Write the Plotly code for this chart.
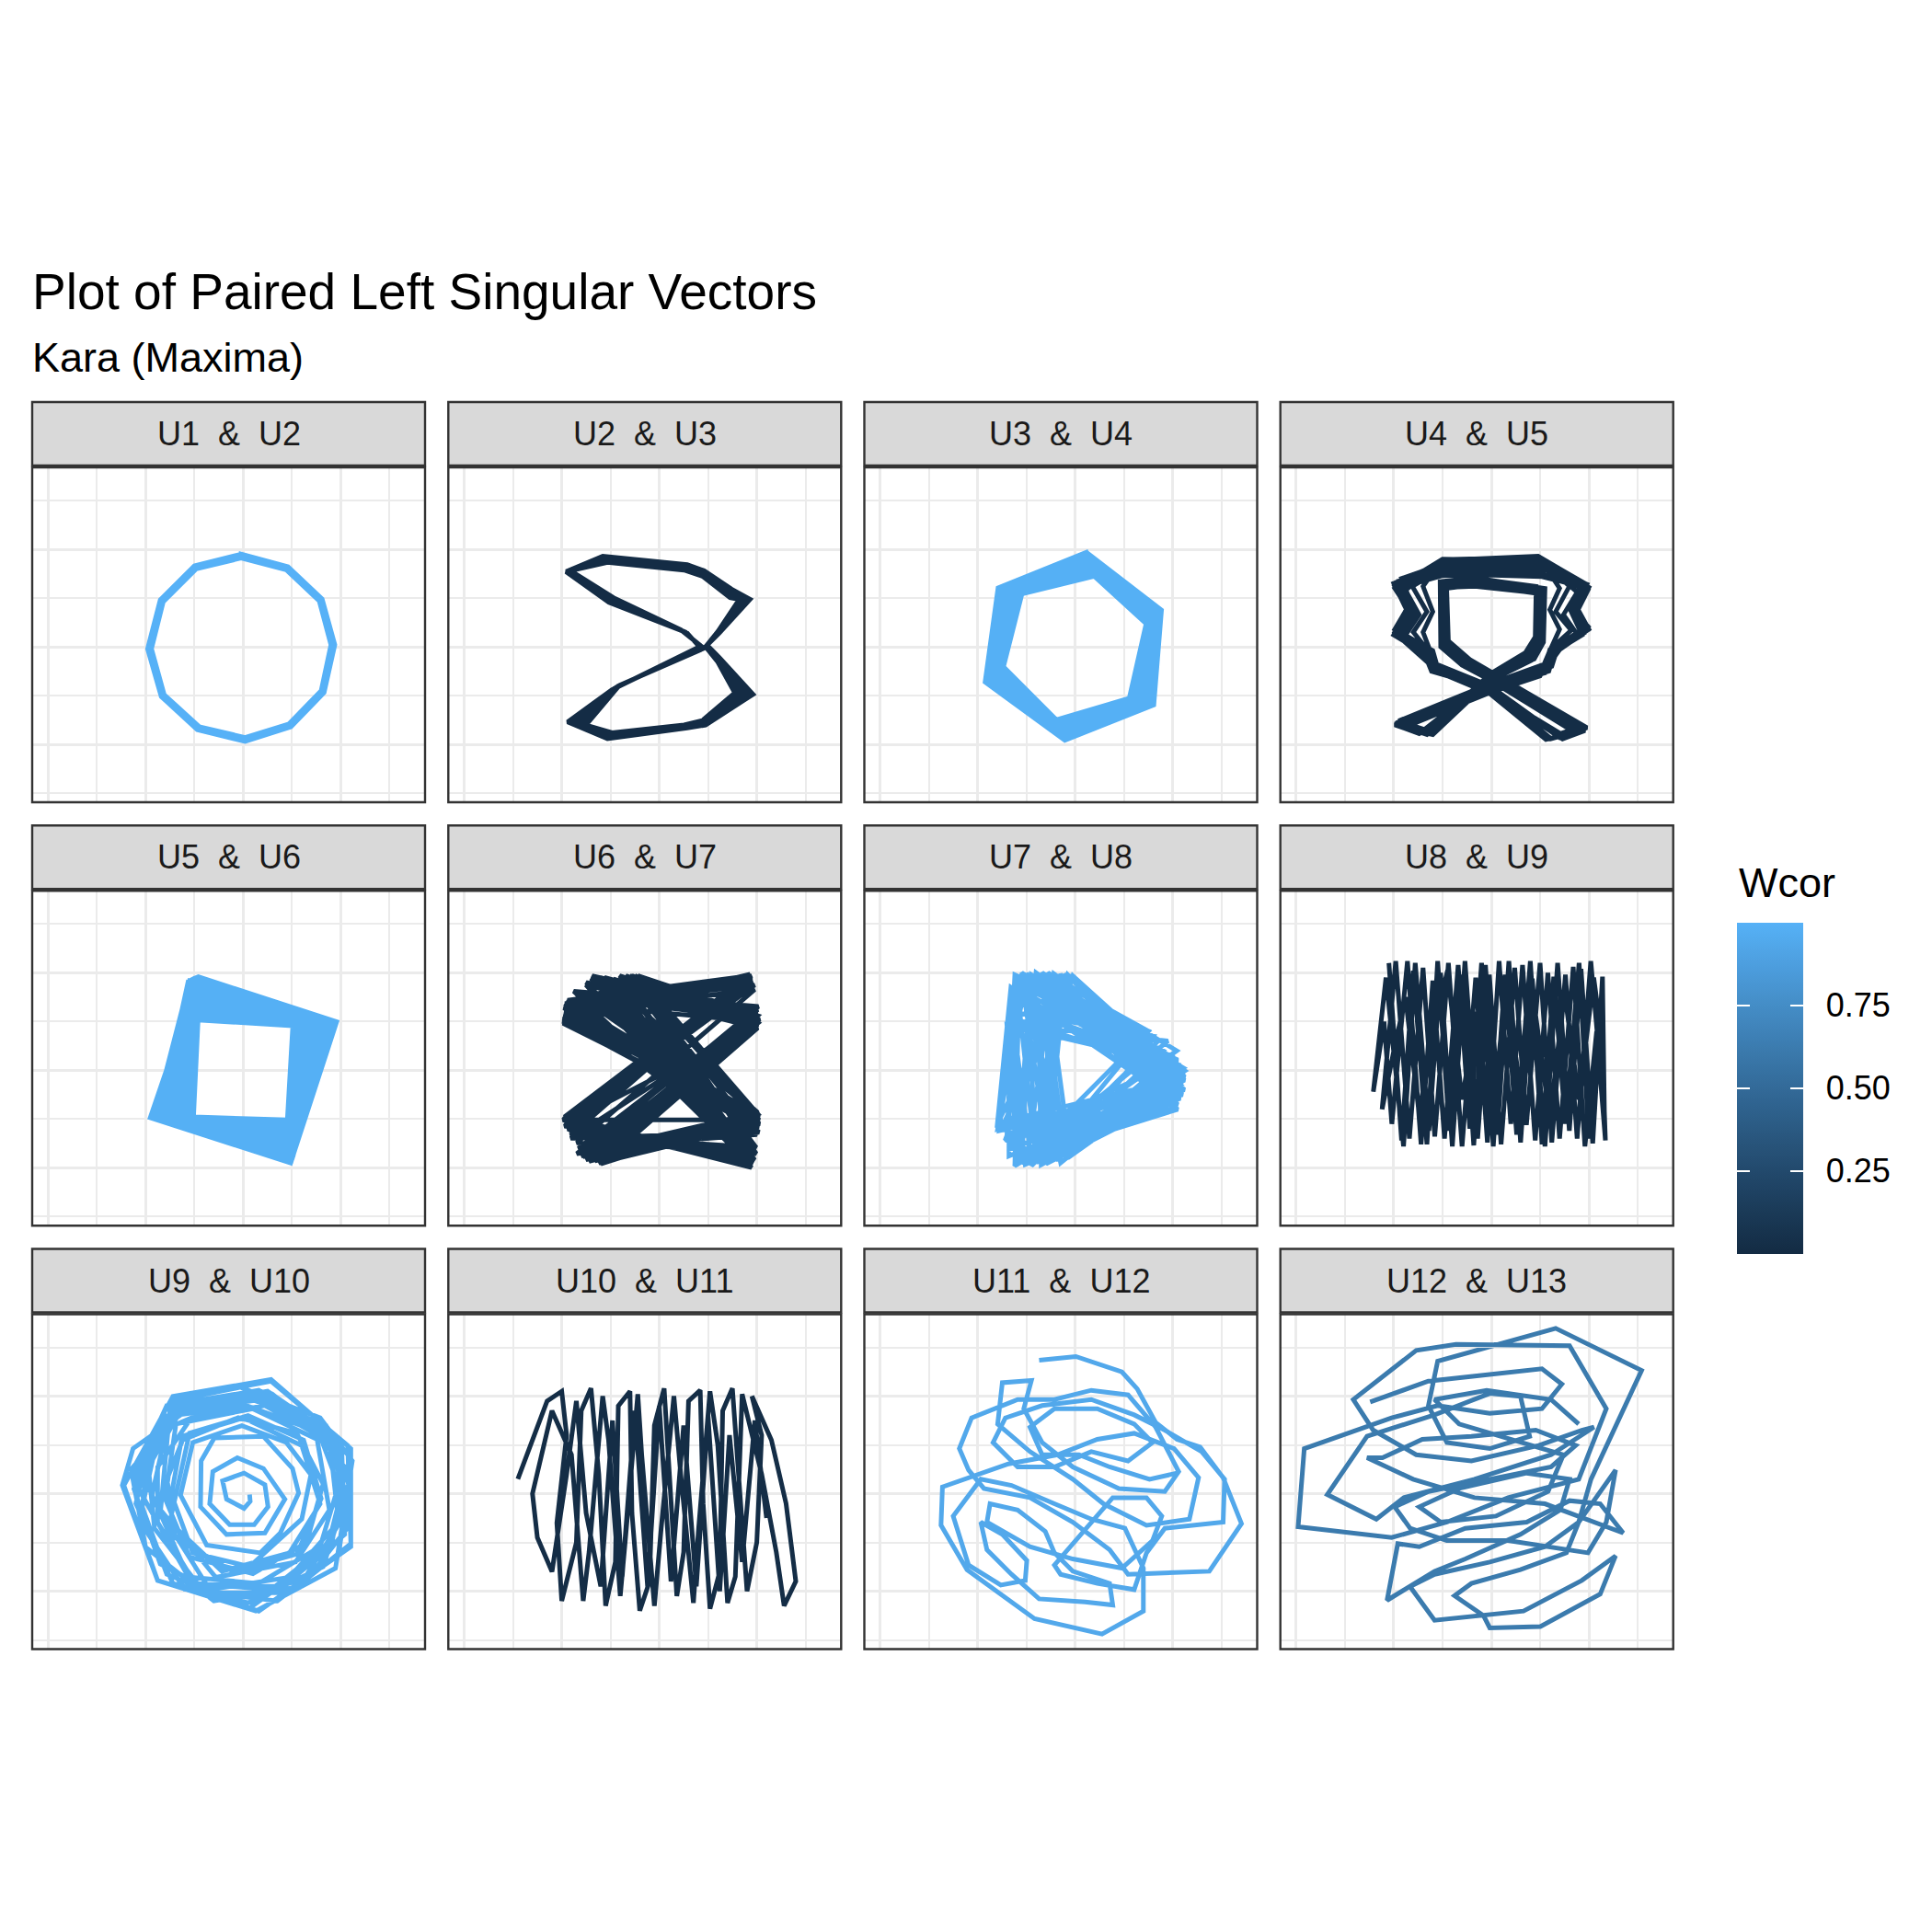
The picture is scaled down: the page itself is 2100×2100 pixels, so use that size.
import plotly.graph_objects as go

# ---------------- text / categories ----------------
TITLE = "Plot of Paired Left Singular Vectors"
SUBTITLE = "Kara (Maxima)"
LEGEND_TITLE = "Wcor"
PANEL_LABELS = ["U1  &  U2", "U2  &  U3", "U3  &  U4", "U4  &  U5",
                "U5  &  U6", "U6  &  U7", "U7  &  U8", "U8  &  U9",
                "U9  &  U10", "U10  &  U11", "U11  &  U12", "U12  &  U13"]
WCOR = [1.00, 0.01, 0.99, 0.02, 0.99, 0.03, 0.98, 0.00, 0.97, 0.02, 0.94, 0.62]
CB_TICKS = [0.25, 0.50, 0.75]
CB_TICKTEXT = ["0.25", "0.50", "0.75"]

# ---------------- paired singular vectors ----------------
U1_U2 = [(-0.02, 0.91), (0.44, 0.79), (0.78, 0.47), (0.90, 0.02), (0.80, -0.45), (0.47, -0.79),
         (0.02, -0.93), (-0.45, -0.82), (-0.81, -0.49), (-0.94, -0.02), (-0.82, 0.46), (-0.48, 0.80),
         (-0.02, 0.91),
         (-0.02, 0.95), (0.46, 0.82), (0.81, 0.49), (0.94, 0.02), (0.83, -0.47), (0.49, -0.82),
         (0.02, -0.97), (-0.47, -0.85), (-0.84, -0.51), (-0.98, -0.02), (-0.85, 0.48), (-0.50, 0.83),
         (-0.02, 0.95)]

U2_U3 = [(-0.956, 0.770), (-0.579, 0.928), (0.286, 0.843), (0.459, 0.780), (0.742, 0.591), (0.931, 0.487),
         (0.616, 0.142), (0.491, 0.016), (0.616, -0.110), (0.962, -0.487), (0.475, -0.802), (0.286, -0.833),
         (-0.531, -0.943), (-0.940, -0.770), (-0.484, -0.440), (0.412, 0.000), (0.286, 0.142), (-0.516, 0.456),
         (-0.956, 0.770),
         (-0.945, 0.772), (-0.568, 0.912), (0.278, 0.828), (0.455, 0.766), (0.738, 0.569), (0.904, 0.487),
         (0.611, 0.147), (0.486, 0.012), (0.611, -0.121), (0.915, -0.482), (0.467, -0.790), (0.278, -0.826),
         (-0.520, -0.928), (-0.893, -0.778), (-0.463, -0.428), (0.425, -0.003), (0.270, 0.150), (-0.505, 0.467),
         (-0.945, 0.772),
         (-0.934, 0.774), (-0.557, 0.896), (0.270, 0.814), (0.450, 0.752), (0.733, 0.547), (0.877, 0.487),
         (0.607, 0.151), (0.481, 0.009), (0.607, -0.132), (0.868, -0.478), (0.459, -0.777), (0.270, -0.818),
         (-0.509, -0.912), (-0.846, -0.786), (-0.443, -0.415), (0.437, -0.006), (0.255, 0.157), (-0.494, 0.478),
         (-0.934, 0.774),
         (-0.921, 0.777), (-0.544, 0.880), (0.262, 0.800), (0.446, 0.738), (0.729, 0.525), (0.849, 0.487),
         (0.604, 0.154), (0.478, 0.005), (0.604, -0.145), (0.821, -0.475), (0.451, -0.766), (0.262, -0.810),
         (-0.497, -0.897), (-0.799, -0.794), (-0.425, -0.404), (0.448, -0.011), (0.239, 0.165), (-0.481, 0.490),
         (-0.921, 0.777),
         (-0.909, 0.780), (-0.531, 0.865), (0.255, 0.786), (0.443, 0.723), (0.726, 0.503), (0.821, 0.487),
         (0.601, 0.157), (0.475, 0.000), (0.601, -0.157), (0.774, -0.472), (0.443, -0.755), (0.255, -0.802),
         (-0.484, -0.881), (-0.752, -0.802), (-0.406, -0.393), (0.459, -0.016), (0.223, 0.173), (-0.469, 0.503),
         (-0.909, 0.780)]

U3_U4 = [(0.113, 0.969), (0.884, 0.377), (0.805, -0.597), (-0.107, -0.959), (-0.925, -0.362), (-0.792, 0.604), (0.113, 0.969),
         (0.122, 0.940), (0.866, 0.356), (0.776, -0.588), (-0.118, -0.930), (-0.899, -0.344), (-0.762, 0.595), (0.122, 0.940),
         (0.135, 0.906), (0.843, 0.340), (0.742, -0.582), (-0.132, -0.896), (-0.871, -0.321), (-0.730, 0.582), (0.135, 0.906),
         (0.147, 0.873), (0.820, 0.323), (0.705, -0.572), (-0.144, -0.866), (-0.841, -0.300), (-0.695, 0.572), (0.147, 0.873),
         (0.157, 0.843), (0.799, 0.302), (0.664, -0.566), (-0.154, -0.833), (-0.814, -0.277), (-0.657, 0.566), (0.157, 0.843),
         (0.166, 0.813), (0.780, 0.284), (0.631, -0.556), (-0.166, -0.806), (-0.791, -0.258), (-0.627, 0.557), (0.166, 0.813),
         (0.179, 0.780), (0.758, 0.264), (0.601, -0.544), (-0.176, -0.780), (-0.767, -0.236), (-0.594, 0.550), (0.179, 0.780),
         (0.188, 0.751), (0.741, 0.251), (0.578, -0.537), (-0.185, -0.765), (-0.751, -0.221), (-0.570, 0.546), (0.188, 0.751),
         (0.195, 0.723), (0.726, 0.236), (0.553, -0.528), (-0.195, -0.748), (-0.736, -0.204), (-0.547, 0.541), (0.195, 0.723)]

U4_U5 = [(-0.519, 0.865), (0.519, 0.906), (0.975, 0.629), (0.849, 0.362), (0.975, 0.189), (0.629, -0.016),
         (0.566, -0.220), (-0.016, -0.409), (-0.975, -0.780), (-0.708, -0.874), (-0.016, -0.299), (0.393, -0.094),
         (0.487, 0.063), (0.494, 0.560), (-0.173, 0.660), (-0.481, 0.623), (-0.472, 0.016), (-0.252, -0.164),
         (-0.016, -0.283), (0.943, -0.843), (0.708, -0.928), (-0.016, -0.434), (-0.575, -0.204), (-0.629, -0.063),
         (-0.984, 0.142), (-0.833, 0.362), (-0.984, 0.635),
         (-0.566, 0.818), (0.566, 0.865), (0.928, 0.645), (0.818, 0.377), (0.959, 0.157), (0.645, -0.057),
         (0.550, -0.267), (-0.016, -0.425), (-0.928, -0.818), (-0.645, -0.881), (-0.016, -0.310), (0.440, -0.126),
         (0.535, 0.047), (0.550, 0.597), (-0.173, 0.708), (-0.525, 0.667), (-0.519, 0.000), (-0.299, -0.189),
         (-0.016, -0.321), (0.896, -0.865), (0.613, -0.943), (-0.016, -0.425), (-0.613, -0.252), (-0.676, -0.094),
         (-0.943, 0.126), (-0.802, 0.377), (-0.943, 0.676),
         (-0.540, 0.780), (0.540, 0.800), (0.950, 0.600), (0.830, 0.380), (0.940, 0.170), (0.600, -0.040),
         (0.540, -0.180), (-0.016, -0.380), (-0.950, -0.760), (-0.680, -0.850), (-0.016, -0.330), (0.420, -0.110),
         (0.510, 0.080), (0.520, 0.600), (-0.173, 0.690), (-0.500, 0.650), (-0.500, 0.030), (-0.270, -0.170),
         (-0.016, -0.300), (0.920, -0.820), (0.680, -0.900), (-0.016, -0.400), (-0.560, -0.180), (-0.600, -0.040),
         (-0.960, 0.160), (-0.820, 0.380), (-0.960, 0.600),
         (-0.500, 0.730), (0.500, 0.760), (0.990, 0.580), (0.870, 0.340), (0.990, 0.210), (0.660, 0.000),
         (0.590, -0.250), (-0.016, -0.440), (-0.990, -0.800), (-0.740, -0.890), (-0.016, -0.320), (0.370, -0.080),
         (0.460, 0.090), (0.470, 0.580), (-0.150, 0.640), (-0.460, 0.600), (-0.450, 0.050), (-0.230, -0.140),
         (-0.016, -0.260), (0.960, -0.860), (0.730, -0.945), (-0.016, -0.460), (-0.590, -0.230), (-0.650, -0.090),
         (-1.000, 0.120), (-0.850, 0.340), (-1.000, 0.650),
         (-0.440, 0.890), (0.480, 0.930), (0.940, 0.660), (0.800, 0.400), (0.930, 0.120), (0.600, -0.080),
         (0.500, -0.300), (-0.016, -0.470), (-0.900, -0.830), (-0.600, -0.900), (-0.016, -0.350), (0.410, -0.140),
         (0.500, 0.030), (0.520, 0.540), (-0.180, 0.640), (-0.490, 0.600), (-0.480, -0.010), (-0.280, -0.200),
         (-0.016, -0.340), (0.860, -0.880), (0.560, -0.950), (-0.016, -0.480), (-0.540, -0.260), (-0.700, -0.120),
         (-0.920, 0.080), (-0.780, 0.340), (-0.920, 0.700),
         (-0.580, 0.820), (0.600, 0.850), (1.000, 0.610), (0.880, 0.400), (1.000, 0.180), (0.700, -0.030),
         (0.600, -0.170), (-0.016, -0.420), (-0.960, -0.800), (-0.660, -0.900), (-0.016, -0.280), (0.350, -0.060),
         (0.450, 0.100), (0.460, 0.620), (-0.160, 0.700), (-0.460, 0.670), (-0.440, 0.060), (-0.220, -0.130),
         (-0.016, -0.250), (0.980, -0.830), (0.760, -0.920), (-0.016, -0.450), (-0.600, -0.170), (-0.620, -0.030),
         (-0.990, 0.180), (-0.860, 0.400), (-0.990, 0.600),
         (-0.500, 0.900), (0.560, 0.880), (0.960, 0.650), (0.860, 0.370), (0.960, 0.200), (0.640, -0.020),
         (0.580, -0.230), (-0.016, -0.400), (-0.960, -0.790), (-0.720, -0.880), (-0.016, -0.310), (0.400, -0.100),
         (0.490, 0.070), (0.500, 0.570), (-0.170, 0.670), (-0.480, 0.630), (-0.470, 0.020), (-0.260, -0.170),
         (-0.016, -0.290), (0.950, -0.850), (0.720, -0.935), (-0.016, -0.440), (-0.580, -0.210), (-0.640, -0.070),
         (-0.990, 0.150), (-0.840, 0.370), (-0.990, 0.620),
         (-0.560, 0.750), (0.520, 0.720), (0.920, 0.620), (0.810, 0.390), (0.950, 0.140), (0.620, -0.060),
         (0.560, -0.200), (-0.016, -0.390), (-0.940, -0.770), (-0.690, -0.860), (-0.016, -0.330), (0.380, -0.090),
         (0.480, 0.060), (0.490, 0.550), (-0.170, 0.620), (-0.470, 0.610), (-0.490, 0.000), (-0.240, -0.160),
         (-0.016, -0.270), (0.930, -0.840), (0.700, -0.920), (-0.016, -0.420), (-0.570, -0.220), (-0.610, -0.050),
         (-0.970, 0.130), (-0.810, 0.350), (-0.970, 0.660),
         (-0.470, 0.820), (0.580, 0.800), (0.980, 0.640), (0.840, 0.350), (0.985, 0.170), (0.680, -0.010),
         (0.620, -0.200), (-0.016, -0.415), (-0.985, -0.790), (-0.700, -0.870), (-0.016, -0.300), (0.400, -0.100),
         (0.470, 0.080), (0.480, 0.590), (-0.170, 0.680), (-0.490, 0.640), (-0.460, 0.040), (-0.240, -0.150),
         (-0.016, -0.290), (0.935, -0.835), (0.690, -0.920), (-0.016, -0.440), (-0.560, -0.190), (-0.610, -0.050),
         (-0.975, 0.135), (-0.820, 0.350), (-0.975, 0.640),
         (-0.530, 0.850), (0.530, 0.880), (0.800, 0.620), (0.660, 0.360), (0.820, 0.170), (0.600, -0.030),
         (0.550, -0.210), (-0.016, -0.405), (-0.960, -0.785), (-0.700, -0.880), (-0.016, -0.305), (0.400, -0.100),
         (0.490, 0.060), (0.500, 0.565), (-0.170, 0.665), (-0.485, 0.625), (-0.475, 0.020), (-0.255, -0.165),
         (-0.016, -0.285), (0.945, -0.845), (0.710, -0.930), (-0.016, -0.435), (-0.575, -0.200), (-0.630, -0.060),
         (-0.800, 0.150), (-0.660, 0.360), (-0.810, 0.620),
         (-0.510, 0.800), (0.550, 0.830), (0.700, 0.600), (0.600, 0.380), (0.700, 0.180), (0.610, -0.020),
         (0.560, -0.220), (-0.016, -0.410), (-0.970, -0.790), (-0.710, -0.875), (-0.016, -0.300), (0.395, -0.095),
         (0.485, 0.065), (0.495, 0.560), (-0.175, 0.660), (-0.480, 0.620), (-0.470, 0.015), (-0.250, -0.165),
         (-0.016, -0.285), (0.940, -0.840), (0.705, -0.925), (-0.016, -0.435), (-0.575, -0.205), (-0.620, -0.060),
         (-0.700, 0.150), (-0.600, 0.360), (-0.700, 0.620),
         (-0.600, 0.760), (0.620, 0.790), (0.880, 0.560), (0.740, 0.330), (0.880, 0.130), (0.620, -0.050),
         (0.570, -0.240), (-0.016, -0.420), (-0.950, -0.770), (-0.690, -0.860), (-0.016, -0.310), (0.390, -0.090),
         (0.480, 0.060), (0.490, 0.560), (-0.170, 0.660), (-0.480, 0.620), (-0.470, 0.020), (-0.250, -0.160),
         (-0.016, -0.285), (0.930, -0.850), (0.700, -0.930), (-0.016, -0.430), (-0.570, -0.200), (-0.620, -0.060),
         (-0.880, 0.120), (-0.740, 0.330), (-0.880, 0.580), (-0.519, 0.865)]

U5_U6 = [(-0.462, 0.516), (0.509, 0.456), (0.453, -0.509), (-0.509, -0.478), (-0.462, 0.516),
         (-0.468, 0.540), (0.537, 0.462), (0.466, -0.535), (-0.540, -0.482), (-0.468, 0.540),
         (-0.472, 0.566), (0.563, 0.465), (0.478, -0.560), (-0.569, -0.487), (-0.472, 0.566),
         (-0.476, 0.592), (0.589, 0.468), (0.490, -0.588), (-0.597, -0.491), (-0.476, 0.592),
         (-0.481, 0.616), (0.613, 0.472), (0.500, -0.613), (-0.623, -0.494), (-0.481, 0.616),
         (-0.487, 0.641), (0.641, 0.476), (0.509, -0.641), (-0.651, -0.497), (-0.487, 0.641),
         (-0.491, 0.667), (0.667, 0.478), (0.516, -0.667), (-0.676, -0.500), (-0.491, 0.667),
         (-0.494, 0.693), (0.694, 0.481), (0.520, -0.692), (-0.702, -0.502), (-0.494, 0.693),
         (-0.497, 0.717), (0.720, 0.484), (0.525, -0.717), (-0.726, -0.503), (-0.497, 0.717),
         (-0.500, 0.742), (0.746, 0.486), (0.529, -0.741), (-0.752, -0.504), (-0.500, 0.742),
         (-0.503, 0.767), (0.770, 0.487), (0.531, -0.767), (-0.777, -0.503), (-0.503, 0.767),
         (-0.506, 0.793), (0.795, 0.489), (0.529, -0.792), (-0.801, -0.503), (-0.506, 0.793),
         (-0.509, 0.818), (0.818, 0.491), (0.525, -0.818), (-0.827, -0.503), (-0.509, 0.818),
         (-0.548, 0.850), (0.842, 0.493), (0.521, -0.842), (-0.850, -0.502), (-0.548, 0.850),
         (-0.582, 0.881), (0.865, 0.494), (0.516, -0.865), (-0.871, -0.500), (-0.582, 0.881),
         (-0.566, 0.900), (0.889, 0.496), (0.508, -0.889), (-0.893, -0.497), (-0.566, 0.900),
         (-0.550, 0.918), (0.912, 0.497), (0.500, -0.912), (-0.915, -0.494), (-0.550, 0.918),
         (-0.505, 0.940), (0.936, 0.497), (0.494, -0.931), (-0.934, -0.491), (-0.505, 0.940),
         (-0.459, 0.959), (0.959, 0.497), (0.487, -0.950), (-0.953, -0.487), (-0.459, 0.959)]

U6_U7 = [(-0.972, 0.686), (1.009, 0.497), (-0.720, -0.934), (1.025, -0.478),
         (-0.689, 0.969), (1.003, 0.591), (-0.846, -0.855), (1.009, -0.604),
         (-0.987, 0.528), (0.931, 0.984), (-0.972, -0.525), (0.947, -0.981),
         (-0.814, 0.748), (1.009, 0.528), (-0.594, -0.903), (1.025, -0.541),
         (-0.972, 0.591), (0.915, 0.937), (-0.940, -0.604), (0.915, -0.934),
         (-0.469, 0.937), (0.994, 0.465), (-0.752, -0.918), (1.009, -0.509),
         (-0.909, 0.654), (0.978, 0.874), (-0.972, -0.572), (0.978, -0.855),
         (-0.217, 0.969), (1.009, 0.481), (-0.689, -0.918), (1.025, -0.509),
         (-0.940, 0.560), (0.884, 0.969), (-0.877, -0.509), (0.962, -0.950),
         (-0.877, 0.811), (1.016, 0.654), (-0.799, -0.855), (1.009, -0.431),
         (-0.563, 0.953), (0.978, 0.528), (-0.909, -0.698), (1.025, -0.635),
         (-0.978, 0.638), (0.947, 0.953), (-0.956, -0.478), (0.915, -0.965),
         (-0.752, 0.874), (1.009, 0.434), (-0.563, -0.934), (0.994, -0.509),
         (-0.987, 0.481), (0.899, 0.906), (-0.909, -0.667), (0.994, -0.792),
         (-0.343, 0.969), (0.978, 0.528), (-0.783, -0.887), (1.025, -0.478),
         (-0.940, 0.717), (0.915, 0.969), (-0.987, -0.509), (0.947, -0.997),
         (-0.642, 0.921), (0.994, 0.591), (-0.657, -0.887), (1.025, -0.525),
         (-0.972, 0.591), (0.978, 0.827), (-0.846, -0.745), (0.978, -0.824),
         (-0.930, 0.620), (0.950, 0.930), (-0.960, -0.550), (0.930, -0.950),
         (-0.600, 0.950), (1.020, 0.500), (-0.700, -0.920), (1.020, -0.490),
         (-0.980, 0.550), (0.900, 0.960), (-0.920, -0.620), (0.960, -0.900),
         (-0.750, 0.900), (1.000, 0.560), (-0.620, -0.950), (1.030, -0.550),
         (-0.950, 0.700), (0.960, 0.900), (-0.980, -0.500), (0.920, -0.980),
         (-0.400, 0.960), (1.010, 0.470), (-0.800, -0.880), (1.000, -0.460),
         (-0.900, 0.660), (0.930, 0.950), (-0.880, -0.580), (0.970, -0.880),
         (-0.550, 0.930), (1.030, 0.520), (-0.660, -0.930), (1.020, -0.580),
         (-0.990, 0.500), (0.890, 0.920), (-0.950, -0.520), (0.940, -0.930),
         (-0.700, 0.940), (0.990, 0.440), (-0.740, -0.900), (1.010, -0.520),
         (-0.850, 0.780), (1.010, 0.620), (-0.830, -0.800), (1.000, -0.660),
         (-0.300, 0.970), (0.970, 0.500), (-0.600, -0.960), (1.020, -0.450),
         (-0.972, 0.591), (0.931, 0.969), (-0.972, -0.509), (1.025, -0.509),
         (-0.280, 0.969), (1.009, 0.497), (-0.720, -0.934), (1.009, -0.447),
         (-0.217, 0.969), (1.009, 0.465), (-0.940, -0.541), (0.978, -0.918),
         (-0.406, 0.969), (1.009, 0.528), (-0.657, -0.918), (1.025, -0.494),
         (-0.972, 0.560), (0.915, 0.953), (-0.972, -0.478), (0.947, -0.965),
         (-0.248, 0.969), (0.994, 0.481), (-0.752, -0.887), (1.009, -0.431),
         (-0.987, 0.528), (0.884, 0.969), (-0.956, -0.572), (0.994, -0.855),
         (-0.217, 0.969), (1.009, 0.560), (-0.594, -0.934), (1.025, -0.509),
         (-0.940, 0.654), (0.947, 0.969), (-0.972, -0.494), (0.915, -0.981),
         (-0.280, 0.969), (1.009, 0.513), (-0.799, -0.871), (1.025, -0.478),
         (-0.972, 0.686)]

U7_U8 = [(-0.607, 0.953), (1.107, -0.022), (-0.607, -0.934),
         (-0.403, 1.000), (1.123, -0.101), (-0.748, -0.604),
         (-0.151, 0.984), (0.918, -0.415), (-0.591, -0.950),
         (-0.701, 0.465), (0.918, 0.088), (-0.025, -0.855),
         (-0.591, 0.906), (0.745, 0.403), (-0.340, -0.918),
         (-0.245, 0.984), (1.044, -0.132), (-0.796, -0.604),
         (-0.497, 0.969), (1.107, 0.025), (-0.623, -0.981),
         (-0.025, 0.969), (1.123, -0.069), (-0.796, -0.541),
         (-0.025, 0.969), (0.887, -0.440), (-0.780, -0.572),
         (-0.607, 0.969), (1.075, -0.289), (-0.513, -0.965),
         (-0.686, 0.450), (1.013, 0.151), (-0.214, -0.887),
         (-0.340, 1.000), (1.123, -0.006), (-0.277, -0.887),
         (-0.550, 0.930), (1.100, -0.050), (-0.550, -0.950),
         (-0.450, 0.980), (1.050, 0.100), (-0.700, -0.700),
         (-0.200, 0.970), (0.950, -0.300), (-0.450, -0.930),
         (-0.650, 0.600), (0.800, 0.350), (-0.100, -0.850),
         (-0.350, 0.950), (1.120, -0.200), (-0.780, -0.620),
         (-0.620, 0.800), (1.000, -0.300), (-0.300, -0.960),
         (-0.100, 0.990), (1.080, -0.150), (-0.680, -0.880),
         (-0.680, 0.500), (1.050, 0.050), (-0.400, -0.900),
         (-0.500, 0.990), (1.000, -0.350), (-0.750, -0.580),
         (-0.030, 0.950), (0.950, -0.420), (-0.780, -0.560),
         (-0.580, 0.750), (1.120, 0.000), (-0.200, -0.920),
         (-0.280, 1.000), (1.040, 0.200), (-0.620, -0.980),
         (-0.580, 0.700), (1.100, -0.120), (-0.650, -0.800),
         (-0.400, 0.850), (0.900, 0.200), (-0.300, -0.900),
         (-0.150, 0.900), (1.050, -0.350), (-0.700, -0.650),
         (-0.620, 0.980), (0.850, 0.300), (-0.450, -0.980),
         (-0.050, 0.980), (1.000, -0.400), (-0.780, -0.580),
         (-0.680, 0.550), (1.120, -0.050), (-0.050, -0.880),
         (-0.300, 0.980), (0.750, 0.400), (-0.600, -0.960),
         (-0.480, 0.600), (1.080, 0.050), (-0.150, -0.950),
         (-0.550, 1.000), (1.100, -0.250), (-0.720, -0.720),
         (-0.080, 0.980), (1.050, -0.200), (-0.800, -0.560),
         (-0.660, 0.850), (0.950, -0.250), (-0.350, -0.970),
         (-0.380, 0.720), (1.120, -0.100), (-0.500, -0.940),
         (-0.220, 0.990), (0.800, 0.250), (-0.400, -0.950),
         (-0.600, 0.880), (1.020, 0.120), (-0.250, -0.930),
         (-0.450, 0.950), (1.050, -0.400), (-0.550, -0.900),
         (-0.700, 0.470), (0.950, 0.300), (-0.600, -0.970),
         (-0.607, 0.953)]

U8_U9 = [(-1.05, 1.10), (-0.92, -0.72), (-0.80, 1.02), (-0.66, -0.76), (-0.55, 1.12), (-0.43, -0.62),
         (-0.30, 0.98), (-0.18, -0.77), (-0.06, 1.08), (0.06, -0.66), (0.18, 1.12), (0.30, -0.74),
         (0.42, 0.94), (0.55, -0.78), (0.68, 1.10), (0.80, -0.62), (0.92, 1.04), (1.04, -0.75),
         (1.14, 0.96), (1.16, -0.45), (1.02, 1.12), (0.88, -0.70), (0.76, 0.98), (0.62, -0.74),
         (0.50, 1.10), (0.36, -0.56), (0.24, 1.05), (0.10, -0.76), (-0.02, 0.98), (-0.14, -0.70),
         (-0.27, 1.12), (-0.40, -0.78), (-0.52, 1.00), (-0.64, -0.62), (-0.78, 1.10), (-0.90, -0.78),
         (-1.08, 0.95), (-1.21, -0.22), (-1.10, 0.50), (-1.02, -0.55), (-0.86, 1.12), (-0.72, -0.76),
         (-0.60, 0.92), (-0.48, -0.70), (-0.34, 1.08), (-0.22, -0.60), (-0.10, 1.10), (0.02, -0.78),
         (0.14, 0.98), (0.26, -0.66), (0.40, 1.12), (0.52, -0.76), (0.64, 0.96), (0.76, -0.55),
         (0.90, 1.10), (1.00, -0.70), (1.12, 0.70), (1.17, -0.72), (1.08, 0.40), (0.96, -0.78),
         (0.84, 1.06), (0.70, -0.70), (0.58, 1.00), (0.45, -0.72), (0.32, 1.08), (0.20, -0.55),
         (0.08, 1.12), (-0.04, -0.74), (-0.16, 0.95), (-0.30, -0.78), (-0.44, 1.10), (-0.58, -0.68),
         (-0.70, 1.05), (-0.84, -0.70), (-0.98, 1.12), (-1.12, -0.40), (-1.00, 0.20), (-0.88, 0.75),
         (-0.74, -0.45), (-0.60, 0.40), (-0.45, 1.02), (-0.30, -0.30), (-0.15, 0.60), (0.00, -0.60),
         (0.15, 0.85), (0.30, -0.20), (0.45, 0.60), (0.60, -0.50), (0.75, 0.80), (0.90, -0.30),
         (1.05, 0.95), (1.15, 0.20)]

U9_U10 = [(0.066, -0.009), (0.072, -0.079), (0.009, -0.151), (-0.170, -0.057), (-0.211, 0.132), (0.009, 0.211),
          (0.223, 0.091), (0.255, -0.135), (0.113, -0.318), (-0.138, -0.318), (-0.343, -0.104), (-0.311, 0.226),
          (-0.060, 0.368), (0.208, 0.258), (0.428, -0.057), (0.223, -0.403), (-0.170, -0.418), (-0.437, -0.135),
          (-0.431, 0.336), (-0.296, 0.572), (0.208, 0.588), (0.506, 0.258), (0.569, 0.006), (0.381, -0.403),
          (0.176, -0.607), (-0.374, -0.528), (-0.642, -0.016), (-0.516, 0.525), (-0.013, 0.698), (0.443, 0.525),
          (0.695, 0.195), (0.601, -0.261), (0.066, -0.748), (-0.516, -0.607), (-0.736, -0.009), (-0.626, 0.588),
          (0.003, 0.777), (0.601, 0.494), (0.789, -0.104), (0.475, -0.607), (-0.217, -0.796), (-0.752, -0.292),
          (-0.550, 0.620), (0.050, 0.800), (0.620, 0.550), (0.800, -0.050), (0.550, -0.620), (-0.100, -0.800),
          (-0.700, -0.450), (-0.780, 0.150),
          (-0.620, 0.550), (-0.050, 0.780), (0.550, 0.620), (0.820, 0.100), (0.650, -0.500), (0.100, -0.820),
          (-0.550, -0.650), (-0.800, -0.050),
          (-0.689, 0.714), (0.097, 0.871), (0.758, 0.557), (0.884, -0.167), (0.538, -0.701), (-0.280, -0.858),
          (-0.846, -0.167),
          (-0.752, 0.840), (0.192, 0.965), (0.884, 0.557), (0.978, -0.292), (0.475, -0.858), (-0.343, -0.984),
          (-0.940, -0.041),
          (-0.720, 0.965), (0.286, 1.154), (1.072, 0.494), (1.104, -0.513), (0.475, -1.016), (-0.469, -1.016),
          (-1.129, 0.148),
          (-0.783, 0.903), (0.160, 1.060), (1.009, 0.525), (1.041, -0.418), (0.412, -0.953), (-0.531, -0.921),
          (-1.035, 0.211),
          (-0.657, 0.965), (-0.028, 1.091), (0.789, 0.777), (1.119, 0.336), (0.947, -0.764), (0.129, -1.204),
          (-0.877, -0.890), (-1.223, 0.085), (-0.909, 0.651),
          (-0.720, 0.997), (0.286, 1.170), (1.104, 0.462), (1.104, -0.544), (0.160, -1.204), (-0.877, -0.890),
          (-1.239, 0.085), (-1.129, 0.462),
          (-0.594, 0.840), (0.160, 0.965), (0.915, 0.588), (1.009, 0.022), (0.852, -0.607), (0.066, -1.173),
          (-0.783, -0.827), (-1.035, -0.135), (-0.909, 0.431),
          (-0.700, 0.880), (0.250, 1.050), (0.980, 0.550), (1.070, -0.350), (0.600, -0.950), (-0.300, -1.100),
          (-1.000, -0.550), (-1.150, 0.250),
          (-0.657, 0.808), (0.035, 0.903), (0.726, 0.651), (1.041, 0.274), (0.915, -0.481), (0.286, -0.984),
          (-0.469, -0.921), (-0.909, -0.355), (-0.972, 0.274),
          (-0.600, 0.920), (0.100, 1.000), (0.850, 0.700), (1.080, 0.100), (0.980, -0.620), (0.350, -1.100),
          (-0.600, -0.980), (-1.050, -0.300), (-0.980, 0.400),
          (-0.780, 0.800), (0.050, 0.980), (0.800, 0.700), (1.060, 0.000), (0.820, -0.750), (0.050, -1.120),
          (-0.720, -0.920), (-1.100, -0.100), (-0.950, 0.550),
          (-0.660, 0.860), (0.300, 1.020), (0.950, 0.500), (1.020, -0.250), (0.620, -0.880), (-0.150, -1.080),
          (-0.850, -0.720), (-1.120, 0.050), (-0.900, 0.620),
          (-0.531, 0.777), (0.223, 0.903), (0.789, 0.588), (0.978, 0.085), (0.789, -0.544), (0.160, -0.921),
          (-0.531, -0.858), (-0.877, -0.292), (-0.877, 0.274), (-0.531, 0.777)]

U10_U11 = [(-1.45, 0.15), (-1.30, 0.55), (-1.15, 0.95), (-1.00, 1.05), (-0.95, 0.60), (-1.05, -0.30),
           (-1.00, -1.10), (-0.85, -0.50), (-0.80, 0.85), (-0.70, 1.08), (-0.62, 0.20), (-0.55, -1.15),
           (-0.45, -0.70), (-0.42, 0.90), (-0.30, 1.05), (-0.28, -0.20), (-0.20, -1.20), (-0.10, -0.90),
           (-0.05, 0.70), (0.05, 1.08), (0.10, 0.30), (0.18, -1.05), (0.25, -0.60), (0.30, 0.95),
           (0.42, 1.06), (0.45, -0.10), (0.52, -1.18), (0.62, -0.80), (0.65, 0.85), (0.75, 1.08),
           (0.82, 0.10), (0.90, -1.00), (1.00, -0.50), (1.05, 0.60), (0.95, 1.00), (1.15, 0.55),
           (1.30, -0.10), (1.40, -0.90), (1.28, -1.15), (1.20, -0.60), (1.05, 0.20), (0.85, 1.02),
           (0.78, -0.85), (0.70, -1.12), (0.60, 0.50), (0.52, 1.05), (0.40, -0.40), (0.35, -1.12),
           (0.22, 0.20), (0.15, 1.00), (0.02, -0.35), (-0.05, -1.15), (-0.18, 0.40), (-0.22, 1.02),
           (-0.35, -0.50), (-0.40, -1.05), (-0.52, 0.55), (-0.58, 1.00), (-0.72, -0.60), (-0.78, -1.10),
           (-0.90, 0.40), (-1.10, 0.85), (-1.30, 0.00), (-1.25, -0.45), (-1.10, -0.80), (-0.95, 0.20),
           (-0.85, 0.95), (-0.75, -0.20), (-0.60, -0.95), (-0.48, 0.75), (-0.38, -0.85), (-0.25, 0.85),
           (-0.12, -0.95), (0.00, 0.90), (0.12, -0.90), (0.25, 0.70), (0.38, -0.95), (0.50, 0.80),
           (0.62, -1.00), (0.72, 0.60), (0.85, -0.70), (0.98, 0.75), (1.10, -0.25)]

U11_U12 = [(-0.371, 1.368), (0.006, 1.406), (0.478, 1.248), (0.635, 1.075), (0.824, 0.730), (1.044, 0.557),
           (1.280, 0.478), (1.516, 0.164), (1.704, -0.308), (1.374, -0.796), (0.541, -0.827), (0.352, -0.575),
           (-0.025, -0.292), (-0.465, -0.041), (-0.937, 0.053), (-1.094, 0.242), (-1.189, 0.462), (-1.063, 0.777),
           (-0.591, 0.965), (-0.214, 0.965), (0.164, 1.060), (0.541, 1.013), (0.824, 0.682), (1.060, 0.226),
           (0.918, 0.022), (0.447, 0.053), (-0.025, 0.274), (-0.340, 0.525), (-0.528, 0.871), (-0.450, 1.160),
           (-0.748, 1.138), (-0.796, 0.714), (-0.465, 0.431), (-0.025, 0.148), (0.289, -0.104), (0.730, -0.324),
           (1.170, -0.261), (1.264, 0.164), (1.013, 0.462), (0.604, 0.619), (0.226, 0.557), (-0.182, 0.399),
           (-0.686, 0.305), (-1.362, 0.069), (-1.377, -0.324), (-1.110, -0.780), (-0.418, -1.283), (0.274, -1.440),
           (0.698, -1.204), (0.698, -0.764), (0.509, -0.355), (0.164, -0.261), (-0.214, -0.104), (-0.654, 0.085),
           (-0.969, 0.148), (-1.252, -0.230), (-1.094, -0.733), (-0.764, -0.937), (-0.513, -0.890), (-0.497, -0.686),
           (-0.748, -0.418), (-0.969, -0.292), (-0.906, -0.575), (-0.654, -0.827), (-0.371, -1.079), (0.101, -1.110),
           (0.384, -1.142), (0.352, -0.921), (-0.025, -0.796), (-0.214, -0.607), (-0.308, -0.387), (-0.591, -0.167),
           (-0.874, -0.104), (-0.906, -0.292), (-0.465, -0.544), (-0.025, -0.670), (0.478, -0.764), (0.792, -0.481),
           (0.887, -0.230), (0.730, -0.041), (0.384, -0.041), (0.164, -0.292), (-0.214, -0.733), (-0.151, -0.827),
           (0.226, -0.921), (0.604, -0.984), (0.730, -0.607), (0.918, -0.355), (1.516, -0.292), (1.531, 0.148),
           (1.296, 0.431), (0.918, 0.651), (0.604, 0.808), (0.164, 0.965), (-0.340, 0.903), (-0.717, 0.777),
           (-0.843, 0.525), (-0.591, 0.274), (-0.214, 0.274), (0.164, 0.431), (0.541, 0.336), (0.792, 0.525),
           (0.604, 0.714), (0.226, 0.871), (-0.214, 0.871), (-0.465, 0.682), (-0.340, 0.399), (0.038, 0.399),
           (0.352, 0.274), (0.761, 0.148), (1.044, 0.211)]

U12_U13 = [(-1.242, 0.940), (-0.645, 1.154), (0.519, 1.280), (0.723, 1.123), (0.519, 0.871), (-0.016, 0.824),
           (-0.550, 0.903), (-1.022, 0.777), (-1.918, 0.462), (-1.981, -0.340), (-1.022, -0.450), (-0.456, -0.292),
           (0.173, -0.041), (0.896, 0.148), (1.179, 0.871), (0.802, 1.516), (-0.362, 1.531), (-0.770, 1.469),
           (-1.415, 0.965), (-1.211, 0.651), (-0.770, 0.399), (-0.204, 0.336), (0.487, 0.494), (0.928, 0.651),
           (1.053, 0.682), (0.613, 0.399), (-0.173, 0.148), (-0.896, -0.041), (-1.179, -0.261), (-1.682, -0.009),
           (-1.274, 0.588), (-0.582, 0.808), (-0.016, 1.028), (0.299, 0.997), (0.393, 0.588), (-0.016, 0.462),
           (-0.456, 0.525), (-0.645, 0.903), (-0.550, 1.358), (0.660, 1.695), (1.541, 1.264), (1.022, 0.148),
           (0.896, -0.292), (0.550, -0.544), (-0.016, -0.701), (-0.582, -0.827), (-0.833, -0.953), (-0.582, -1.299),
           (0.330, -1.204), (0.928, -0.890), (1.274, -0.638), (1.116, -1.031), (0.503, -1.362), (-0.016, -1.377),
           (-0.079, -1.252), (-0.377, -1.047), (-0.204, -0.921), (0.299, -0.780), (0.770, -0.607), (0.896, -0.292),
           (1.274, 0.242), (1.179, -0.292), (0.991, -0.607), (0.173, -0.481), (-0.456, -0.481), (-0.833, -0.355),
           (-0.991, -0.135), (-0.645, 0.022), (-0.016, 0.148), (0.613, 0.274), (0.865, 0.494), (0.456, 0.651),
           (-0.204, 0.588), (-0.708, 0.557), (-1.116, 0.368), (-1.274, 0.368), (-0.802, 0.148), (-0.173, -0.041),
           (0.550, -0.104), (1.352, -0.403), (1.116, -0.104), (0.802, -0.072), (0.362, -0.292), (-0.267, -0.355),
           (-0.739, -0.544), (-0.959, -0.513), (-1.069, -1.094), (-0.582, -0.796), (-0.267, -0.670), (0.299, -0.418),
           (0.708, -0.167), (0.802, 0.148), (0.362, 0.211), (-0.330, 0.053), (-0.739, -0.135), (-0.519, -0.292),
           (0.047, -0.230), (0.582, 0.022), (0.739, 0.399), (0.299, 0.525), (-0.330, 0.714), (-0.582, 0.965),
           (-0.047, 1.060), (0.613, 0.965), (0.896, 0.714)]

PANELS = [U1_U2, U2_U3, U3_U4, U4_U5, U5_U6, U6_U7, U7_U8, U8_U9, U9_U10, U10_U11, U11_U12, U12_U13]

# ---------------- styling ----------------
W = 2100
FONT = "Liberation Sans, Arial, Helvetica, sans-serif"
LOW_COLOR, HIGH_COLOR = "#132B43", "#56B1F7"
COL_LEFT = [35.0, 487.3, 939.5, 1391.7]
ROW_TOP = [508.0, 968.3, 1428.5]
PANEL_W, PANEL_H = 427.0, 364.0
STRIP_H, STRIP_GAP = 69.0, 2.0
X_RANGE = [-2.163, 1.865]
Y_RANGE = [-1.594, 1.840]
LINE_W = 5.0
GRID = "#EBEBEB"
BORDER = "#333333"


def _lab(hexcol):
    h = hexcol.lstrip('#')
    rgb = [int(h[i:i + 2], 16) / 255 for i in (0, 2, 4)]

    def lin(c):
        return c / 12.92 if c <= 0.04045 else ((c + 0.055) / 1.055) ** 2.4
    r, g, b = [lin(c) for c in rgb]
    X = (0.4124564 * r + 0.3575761 * g + 0.1804375 * b) / 0.95047
    Y = (0.2126729 * r + 0.7151522 * g + 0.0721750 * b)
    Z = (0.0193339 * r + 0.1191920 * g + 0.9503041 * b) / 1.08883

    def f(t):
        return t ** (1 / 3) if t > 216 / 24389 else (24389 / 27 * t + 16) / 116
    fx, fy, fz = f(X), f(Y), f(Z)
    return (116 * fy - 16, 500 * (fx - fy), 200 * (fy - fz))


def _hex(L, a, b):
    fy = (L + 16) / 116
    fx = fy + a / 500
    fz = fy - b / 200

    def finv(t):
        return t ** 3 if t ** 3 > 216 / 24389 else (116 * t - 16) / (24389 / 27)
    X, Y, Z = finv(fx) * 0.95047, finv(fy), finv(fz) * 1.08883
    r = 3.2404542 * X - 1.5371385 * Y - 0.4985314 * Z
    g = -0.9692660 * X + 1.8760108 * Y + 0.0415560 * Z
    bb = 0.0556434 * X - 0.2040259 * Y + 1.0572252 * Z

    def gam(c):
        c = max(0.0, min(1.0, c))
        return 12.92 * c if c <= 0.0031308 else 1.055 * c ** (1 / 2.4) - 0.055
    return '#%02x%02x%02x' % tuple(int(round(gam(c) * 255)) for c in (r, g, bb))


LAB_LO, LAB_HI = _lab(LOW_COLOR), _lab(HIGH_COLOR)
CMIN, CMAX = min(WCOR), max(WCOR)


def ramp(t):
    return _hex(*[lo + (hi - lo) * t for lo, hi in zip(LAB_LO, LAB_HI)])


COLORSCALE = [[k / 20, ramp(k / 20)] for k in range(21)]

fig = go.Figure()
layout = dict(width=W, height=W, margin=dict(l=0, r=0, t=0, b=0),
              paper_bgcolor="white", plot_bgcolor="white", showlegend=False,
              font=dict(family=FONT, color="black"))
shapes, annotations = [], []

for i, (pts, label, w) in enumerate(zip(PANELS, PANEL_LABELS, WCOR)):
    r, c = divmod(i, 4)
    left, top = COL_LEFT[c], ROW_TOP[r]
    xd = [left / W, (left + PANEL_W) / W]
    yd = [1 - (top + PANEL_H) / W, 1 - top / W]
    sfx = "" if i == 0 else str(i + 1)
    axis_common = dict(showticklabels=False, ticks="", zeroline=False, showline=False, tick0=0, dtick=1,
                       showgrid=True, gridcolor=GRID, gridwidth=3.0, fixedrange=True,
                       minor=dict(tick0=0, dtick=0.5, showgrid=True, gridcolor=GRID, gridwidth=1.6))
    layout["xaxis" + sfx] = dict(domain=xd, range=X_RANGE, anchor="y" + sfx, **axis_common)
    layout["yaxis" + sfx] = dict(domain=yd, range=Y_RANGE, anchor="x" + sfx, **axis_common)
    t = (w - CMIN) / (CMAX - CMIN)
    fig.add_trace(go.Scatter(x=[p[0] for p in pts], y=[p[1] for p in pts], mode="lines",
                             line=dict(color=ramp(t), width=LINE_W), hoverinfo="skip",
                             xaxis="x" + sfx, yaxis="y" + sfx))
    shapes.append(dict(type="rect", xref="paper", yref="paper", x0=xd[0], x1=xd[1], y0=yd[0], y1=yd[1],
                       line=dict(color=BORDER, width=2.4), fillcolor="rgba(0,0,0,0)", layer="above"))
    s_bot = top - STRIP_GAP
    s_top = s_bot - STRIP_H
    shapes.append(dict(type="rect", xref="paper", yref="paper", x0=xd[0], x1=xd[1],
                       y0=1 - s_bot / W, y1=1 - s_top / W,
                       line=dict(color=BORDER, width=2.4), fillcolor="#D9D9D9", layer="above"))
    annotations.append(dict(text=label.replace(" ", "\u00a0"), xref="paper", yref="paper",
                            x=(xd[0] + xd[1]) / 2, y=1 - (s_top + s_bot) / 2 / W,
                            xanchor="center", yanchor="middle", showarrow=False,
                            font=dict(size=36, color="#1A1A1A", family=FONT)))

# colour bar (three overlaid bars: labels, right ticks, left ticks)
CB_X = 1888.3 / W
CB_Y = 1 - 1002.7 / W
cb_common = dict(x=CB_X, xanchor="left", y=CB_Y, yanchor="top", len=360, lenmode="pixels",
                 thicknessmode="pixels", outlinewidth=0, xpad=0, ypad=0,
                 tickmode="array", tickvals=CB_TICKS, ticktext=CB_TICKTEXT)
cb_variants = [
    dict(thickness=71.7, ticks="outside", ticklen=18, tickwidth=1, tickcolor="rgba(0,0,0,0)",
         tickfont=dict(size=36, color="black", family=FONT)),
    dict(thickness=71.7, ticks="inside", ticklen=14, tickwidth=1.6, tickcolor="white", showticklabels=False),
    dict(thickness=14, ticks="inside", ticklen=14, tickwidth=1.6, tickcolor="white", showticklabels=False),
]
for v in cb_variants:
    cb = dict(cb_common)
    cb.update(v)
    fig.add_trace(go.Scatter(x=[None], y=[None], mode="markers", hoverinfo="skip",
                             marker=dict(color=[CMIN], colorscale=COLORSCALE, cmin=CMIN, cmax=CMAX,
                                         showscale=True, colorbar=cb),
                             xaxis="x", yaxis="y"))

annotations.append(dict(text=TITLE, xref="paper", yref="paper", x=33 / W, y=1 - 317 / W,
                        xanchor="left", yanchor="middle", showarrow=False,
                        font=dict(size=55, color="black", family=FONT)))
annotations.append(dict(text=SUBTITLE, xref="paper", yref="paper", x=33 / W, y=1 - 388 / W,
                        xanchor="left", yanchor="middle", showarrow=False,
                        font=dict(size=45, color="black", family=FONT)))
annotations.append(dict(text=LEGEND_TITLE, xref="paper", yref="paper", x=1888 / W, y=1 - 960 / W,
                        xanchor="left", yanchor="middle", showarrow=False,
                        font=dict(size=45, color="black", family=FONT)))

layout["shapes"] = shapes
layout["annotations"] = annotations
fig.update_layout(**layout)
fig.write_html("out.html")
